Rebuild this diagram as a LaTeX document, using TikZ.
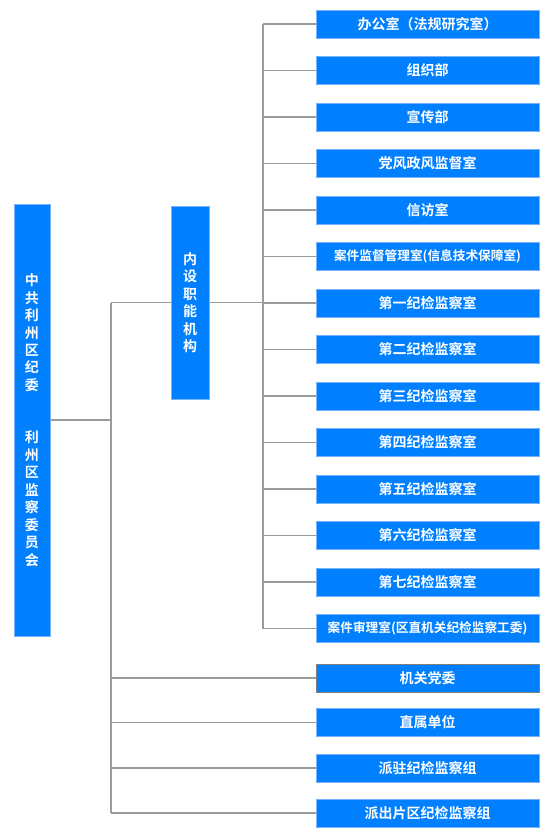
\documentclass[tikz,border=0pt]{standalone}
\usepackage{fontspec}
\newfontfamily\cjk{Noto Sans CJK SC}[BoldFont={Noto Sans CJK SC Bold}]
\tikzset{every picture/.style={line width=0.75pt}}
\tikzset{
  orgbox/.style={draw={rgb, 255:red, 120; green, 178; blue, 255 }, fill={rgb, 255:red, 0; green, 128; blue, 255 }, text=white, font=\cjk\bfseries\fontsize{10.5}{12}\selectfont, minimum width=167.25pt, minimum height=21pt, inner sep=0pt},
  longbox/.style={orgbox, font=\cjk\bfseries\fontsize{9.5}{11}\selectfont},
  vbox/.style={orgbox, align=center, font=\cjk\bfseries\fontsize{10.5}{13.1}\selectfont},
  link/.style={draw={rgb, 255:red, 155; green, 155; blue, 155 }, line width=1.1pt}
}

\begin{document}
\begin{tikzpicture}[x=0.75pt,y=0.75pt,yscale=-1,xscale=1]
\useasboundingbox (0,0) rectangle (557,836);

%Left: committee
\node [vbox, minimum width=27pt, minimum height=324pt] (zy) at (32,420) {中\\共\\利\\州\\区\\纪\\委\\[26.2pt]利\\州\\区\\监\\察\\委\\员\\会};
%Middle: internal units
\node [vbox, minimum width=28.5pt, minimum height=144.75pt] (nz) at (190,302.5) {内\\设\\职\\能\\机\\构};

%Right column
\node [orgbox] (b1) at (427.5,24) {办公室（法规研究室）};
\node [orgbox] (b2) at (427.5,70.5) {组织部};
\node [orgbox] (b3) at (427.5,117) {宣传部};
\node [orgbox] (b4) at (427.5,163.5) {党风政风监督室};
\node [orgbox] (b5) at (427.5,210) {信访室};
\node [longbox] (b6) at (427.5,256.5) {案件监督管理室(信息技术保障室)};
\node [orgbox] (b7) at (427.5,303) {第一纪检监察室};
\node [orgbox] (b8) at (427.5,349.5) {第二纪检监察室};
\node [orgbox] (b9) at (427.5,396) {第三纪检监察室};
\node [orgbox] (b10) at (427.5,442.5) {第四纪检监察室};
\node [orgbox] (b11) at (427.5,489) {第五纪检监察室};
\node [orgbox] (b12) at (427.5,535.5) {第六纪检监察室};
\node [orgbox] (b13) at (427.5,582) {第七纪检监察室};
\node [longbox] (b14) at (427.5,628.5) {案件审理室(区直机关纪检监察工委)};

%Bottom units
\node [orgbox, draw={rgb, 255:red, 128; green, 128; blue, 128 }] (r1) at (427.5,678) {机关党委};
\node [orgbox] (r2) at (427.5,722.5) {直属单位};
\node [orgbox] (r3) at (427.5,768) {派驻纪检监察组};
\node [orgbox] (r4) at (427.5,813) {派出片区纪检监察组};

%Split points
\coordinate (sp) at (111,420);
\coordinate (tr) at (263,303);

%Straight Lines: left split
\draw [link] (zy.east) -- (sp |- zy.east);
\draw [link] (sp |- nz.west) -- (sp |- r4.west);
\draw [link] (sp |- nz.west) -- (nz.west);
\draw [link] (sp |- r1.west) -- (r1.west);
\draw [link] (sp |- r2.west) -- (r2.west);
\draw [link] (sp |- r3.west) -- (r3.west);
\draw [link] (sp |- r4.west) -- (r4.west);

%Straight Lines: right trunk
\draw [link] (nz.east) -- (tr |- nz.east);
\draw [link] (tr |- b1.west) -- (tr |- b14.west);
\draw [link] (tr |- b1.west) -- (b1.west);
\draw [link] (tr |- b2.west) -- (b2.west);
\draw [link] (tr |- b3.west) -- (b3.west);
\draw [link] (tr |- b4.west) -- (b4.west);
\draw [link] (tr |- b5.west) -- (b5.west);
\draw [link] (tr |- b6.west) -- (b6.west);
\draw [link] (tr |- b7.west) -- (b7.west);
\draw [link] (tr |- b8.west) -- (b8.west);
\draw [link] (tr |- b9.west) -- (b9.west);
\draw [link] (tr |- b10.west) -- (b10.west);
\draw [link] (tr |- b11.west) -- (b11.west);
\draw [link] (tr |- b12.west) -- (b12.west);
\draw [link] (tr |- b13.west) -- (b13.west);
\draw [link] (tr |- b14.west) -- (b14.west);

\end{tikzpicture}
\end{document}
